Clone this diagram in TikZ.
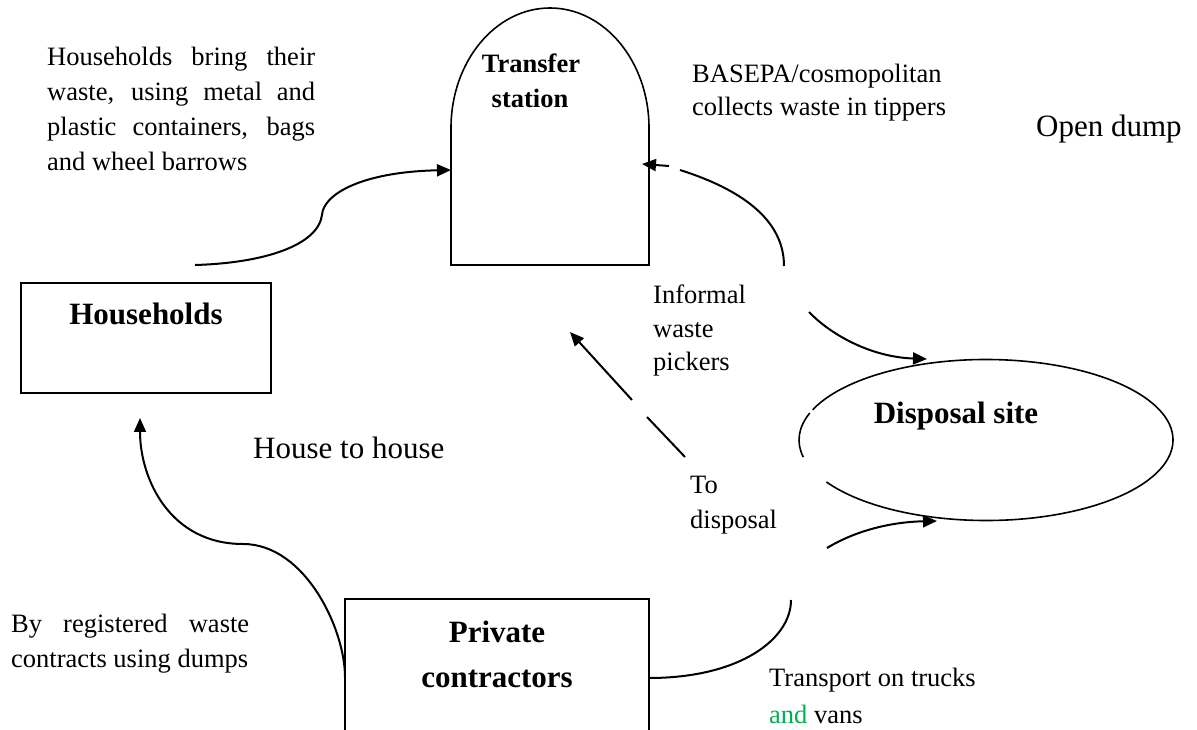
\documentclass[tikz,border=0pt]{standalone}
\usepackage{fontspec}
\setmainfont{Liberation Serif}
\usetikzlibrary{arrows.meta,calc,shapes.geometric}
\definecolor{wordgreen}{RGB}{0,176,80}
\hyphenpenalty=10000
\begin{document}
\begin{tikzpicture}[x=1pt,y=1pt,
  conn/.style={line width=2pt},
  arr/.style={conn,-{Triangle[length=14pt,width=12pt]}},
  shp/.style={line width=1.6pt},
  small/.style={font=\fontsize{26.5}{34}\selectfont, inner sep=0pt},
  big/.style={font=\fontsize{31}{38}\selectfont, inner sep=0pt},
  boldlbl/.style={font=\fontsize{31}{38}\selectfont\bfseries, inner sep=0pt, anchor=base},
  boldsmall/.style={font=\fontsize{26.5}{35}\selectfont\bfseries, inner sep=0pt, anchor=base},
  frame/.style={draw, shp, inner sep=0pt, outer sep=0pt},
]
\useasboundingbox (0,0) rectangle (1197,729);
\clip (0,0) rectangle (1197,729);

% ---- nodes
\node[frame, minimum width=250pt, minimum height=110pt, anchor=north west] (hh) at (21,446) {};
\node[boldlbl] at ($(hh.north)+(0,-42)$) {Households};

\node[inner sep=0pt, outer sep=0pt, minimum width=198pt, minimum height=257pt, anchor=south west] (ts) at (451,464) {};
\draw[shp] (ts.south west) -- ++(0,137) arc[start angle=180, end angle=0, x radius=99pt, y radius=120pt] -- (ts.south east) -- cycle;
\node[boldsmall] at (531,656) {Transfer};
\node[boldsmall] at (530,621) {station};

\node[ellipse, inner sep=0pt, outer sep=0pt, minimum width=374pt, minimum height=161pt] (disp) at (986,289) {};
\draw[shp] (disp.center) ++(-148.6:187pt and 80.5pt) arc[start angle=-148.6, end angle=158, x radius=187pt, y radius=80.5pt];
\draw[shp] (disp.center) ++(160.4:187pt and 80.5pt) arc[start angle=160.4, end angle=192.2, x radius=187pt, y radius=80.5pt];
\node[boldlbl] at (956,305) {Disposal site};

\node[frame, minimum width=304pt, minimum height=150pt, anchor=north west] (pc) at (345,130) {};
\node[boldlbl] at ($(pc.north)+(0,-43)$) {Private};
\node[boldlbl] at ($(pc.north)+(0,-88)$) {contractors};

% ---- texts
\node[small, font=\fontsize{26.5}{35}\selectfont, text width=268pt, align=justify, anchor=north west] (t1) at (47,682)
  {Households bring their\linebreak waste, using metal and\linebreak plastic containers, bags\linebreak and wheel barrows};
\node[small, font=\fontsize{26.5}{33}\selectfont, align=left, anchor=north west] (t2) at (692,665)
  {BASEPA/cosmopolitan\\collects waste in tippers};
\node[big, anchor=base west] (t3) at (1036,592) {Open dump};
\node[small, font=\fontsize{26.5}{33.5}\selectfont, align=left, anchor=north west] (t4) at (653,444)
  {Informal\\waste\\pickers};
\node[big, anchor=base west] (t5) at (253,270) {House to house};
\node[small, font=\fontsize{26.5}{35}\selectfont, align=left, anchor=north west] (t6) at (690,253.5)
  {To\\disposal};
\node[small, font=\fontsize{26.5}{35}\selectfont, text width=238pt, align=justify, anchor=north west] (t7) at (11,115)
  {By registered waste\linebreak contracts using dumps};
\node[small, font=\fontsize{26.5}{37}\selectfont, align=left, anchor=north west] (t8) at (769,61)
  {Transport on trucks\\{\color{wordgreen}and} vans};

% ---- connectors
\coordinate (hhs) at (195,464);
\draw[arr] (hhs) .. controls (265,466) and (318,484) .. (322,514)
  .. controls (323,534) and (360,557) .. ($(ts.south west)+(0,95)$);

\coordinate (bas) at (669,563);
\draw[arr] (bas) -- ($(ts.south east)+(-7,101)$);
\coordinate (c1s) at (680,559);
\coordinate (c1e) at (784,463);
\draw[conn] (c1s) .. controls (740,540) and (784,510) .. (c1e);

\coordinate (c2s) at (809,417);
\draw[arr] (c2s) .. controls (830,395) and (870,372) .. ($(disp.center)+(-59,81)$);

\coordinate (c3s) at (827,181);
\draw[arr] (c3s) .. controls (855,198) and (890,207) .. ($(disp.center)+(-49,-81)$);

\coordinate (c4e) at (791,129);
\draw[conn] ($(pc.north east)+(0,-79)$) .. controls (740,51) and (791,90) .. (c4e);

\draw[arr] ($(pc.north west)+(0,-78)$) .. controls (345,100) and (305,185) .. (243,185)
  .. controls (170,185) and (140,250) .. ($(hh.south)+(-6,-25)$);

\coordinate (d1) at (685,272);
\coordinate (d2) at (647,312);
\coordinate (d3) at (632,329);
\coordinate (d4) at (570,397);
\draw[conn] (d1) -- (d2);
\draw[arr] (d3) -- (d4);
\end{tikzpicture}
\end{document}
